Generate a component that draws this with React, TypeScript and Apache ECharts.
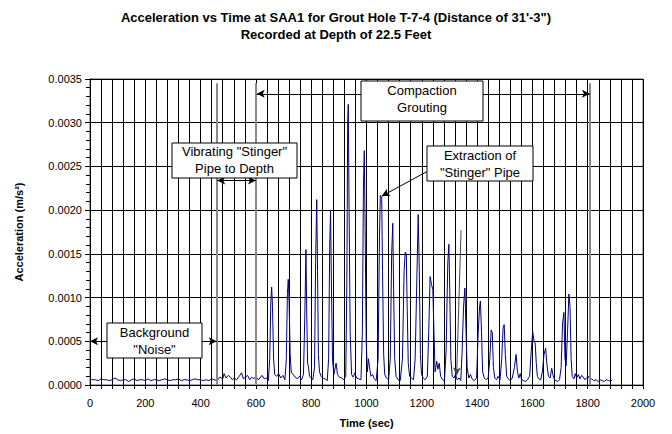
import React, { useEffect, useRef } from "react";
import * as echarts from "echarts";

// Time (sec)
const timeSec = [
  0, 10, 20, 30, 40, 50, 60, 70, 80, 90, 100, 110, 120, 130, 140, 150, 160, 170, 180, 190,
  200, 210, 220, 230, 240, 250, 260, 270, 280, 290, 300, 310, 320, 330, 340, 350, 360, 370, 380, 390,
  400, 410, 420, 430, 440, 450, 460, 470, 480, 485, 492, 500, 508, 515, 522, 530, 540, 548, 555, 562,
  570, 578, 585, 592, 600, 608, 615, 622, 630, 638, 645, 650, 654, 657, 660, 664, 668, 675, 682, 690,
  698, 705, 710, 714, 717, 720, 724, 728, 735, 742, 750, 758, 765, 772, 777, 781, 784, 787, 790, 794,
  800, 806, 812, 816, 820, 823, 826, 830, 836, 842, 850, 858, 863, 867, 870, 873, 877, 882, 890, 895,
  902, 910, 918, 925, 929, 932, 934, 937, 941, 946, 952, 958, 964, 972, 980, 985, 989, 992, 995, 999,
  1003, 1007, 1012, 1016, 1022, 1028, 1035, 1042, 1047, 1050, 1055, 1058, 1062, 1066, 1072, 1080, 1086, 1091, 1095, 1098,
  1102, 1107, 1114, 1122, 1130, 1136, 1140, 1144, 1147, 1151, 1156, 1162, 1170, 1176, 1182, 1187, 1191, 1195, 1199, 1205,
  1212, 1220, 1225, 1230, 1235, 1240, 1244, 1248, 1254, 1258, 1263, 1268, 1275, 1282, 1288, 1294, 1298, 1301, 1305, 1310,
  1316, 1322, 1328, 1335, 1341, 1346, 1351, 1356, 1360, 1364, 1370, 1376, 1382, 1390, 1398, 1404, 1409, 1412, 1416, 1420,
  1426, 1432, 1440, 1446, 1451, 1455, 1459, 1464, 1470, 1476, 1483, 1489, 1494, 1498, 1502, 1507, 1513, 1520, 1527, 1535,
  1541, 1546, 1551, 1556, 1561, 1568, 1575, 1582, 1590, 1596, 1601, 1606, 1610, 1614, 1618, 1624, 1630, 1636, 1642, 1648,
  1652, 1658, 1664, 1670, 1674, 1680, 1686, 1692, 1698, 1704, 1709, 1714, 1718, 1722, 1727, 1732, 1736, 1740, 1744, 1750,
  1755, 1760, 1766, 1772, 1778, 1784, 1790, 1796, 1802, 1808, 1815, 1822, 1830, 1838, 1845, 1852, 1860, 1868, 1876, 1882,
  1888,
];

// Acceleration (m/s^2)
const accel = [
  0.00007, 0.00006, 0.00006, 0.00005, 0.00007, 0.00006, 0.00006, 0.00005, 0.00006, 0.00008,
  0.00006, 0.00005, 0.00006, 0.00006, 0.00004, 0.00006, 0.00007, 0.00005, 0.00006, 0.00006,
  0.00005, 0.00007, 0.00005, 0.00006, 0.00006, 0.00005, 0.00006, 0.00007, 0.00006, 0.00005,
  0.00006, 0.00006, 0.00007, 0.00005, 0.00006, 0.00006, 0.00005, 0.00006, 0.00007, 0.00006,
  0.00006, 0.00005, 0.00006, 0.00005, 0.00007, 0.00006, 0.00005, 0.00009, 0.00007, 0.00013,
  0.00008, 0.00011, 0.00009, 0.00006, 0.00008, 0.00006, 0.00010, 0.00014, 0.00007, 0.00009,
  0.00011, 0.00006, 0.00009, 0.00007, 0.00010, 0.00006, 0.00008, 0.00011, 0.00007, 0.00008,
  0.00005, 0.00030, 0.00095, 0.00112, 0.00090, 0.00030, 0.00012, 0.00010, 0.00013, 0.00008,
  0.00011, 0.00006, 0.00030, 0.00105, 0.00121, 0.00095, 0.00035, 0.00014, 0.00012, 0.00009,
  0.00007, 0.00010, 0.00006, 0.00012, 0.00080, 0.00155, 0.00080, 0.00025, 0.00021, 0.00010,
  0.00008, 0.00006, 0.00020, 0.00140, 0.00212, 0.00130, 0.00035, 0.00015, 0.00010, 0.00008,
  0.00007, 0.00005, 0.00030, 0.00160, 0.00199, 0.00120, 0.00030, 0.00012, 0.00025, 0.00012,
  0.00009, 0.00008, 0.00006, 0.00010, 0.00120, 0.00300, 0.00321, 0.00200, 0.00060, 0.00012,
  0.00009, 0.00014, 0.00008, 0.00007, 0.00006, 0.00060, 0.00230, 0.00268, 0.00180, 0.00050,
  0.00015, 0.00030, 0.00018, 0.00010, 0.00012, 0.00007, 0.00005, 0.00030, 0.00170, 0.00217,
  0.00214, 0.00130, 0.00035, 0.00012, 0.00008, 0.00006, 0.00030, 0.00150, 0.00185, 0.00110,
  0.00030, 0.00010, 0.00006, 0.00005, 0.00030, 0.00130, 0.00152, 0.00150, 0.00090, 0.00025,
  0.00010, 0.00008, 0.00006, 0.00030, 0.00120, 0.00195, 0.00130, 0.00035, 0.00012, 0.00008,
  0.00006, 0.00010, 0.00060, 0.00124, 0.00115, 0.00109, 0.00060, 0.00015, 0.00027, 0.00018,
  0.00025, 0.00010, 0.00006, 0.00005, 0.00040, 0.00140, 0.00161, 0.00110, 0.00030, 0.00010,
  0.00008, 0.00012, 0.00006, 0.00008, 0.00005, 0.00040, 0.00090, 0.00111, 0.00060, 0.00020,
  0.00008, 0.00012, 0.00007, 0.00005, 0.00008, 0.00060, 0.00090, 0.00096, 0.00060, 0.00015,
  0.00008, 0.00006, 0.00008, 0.00030, 0.00063, 0.00060, 0.00020, 0.00008, 0.00006, 0.00010,
  0.00006, 0.00030, 0.00065, 0.00069, 0.00035, 0.00010, 0.00007, 0.00005, 0.00008, 0.00020,
  0.00035, 0.00015, 0.00008, 0.00013, 0.00006, 0.00005, 0.00004, 0.00006, 0.00010, 0.00040,
  0.00061, 0.00050, 0.00048, 0.00025, 0.00010, 0.00007, 0.00006, 0.00015, 0.00035, 0.00042,
  0.00025, 0.00010, 0.00008, 0.00019, 0.00012, 0.00006, 0.00005, 0.00004, 0.00006, 0.00020,
  0.00070, 0.00083, 0.00030, 0.00022, 0.00060, 0.00104, 0.00090, 0.00030, 0.00010, 0.00007,
  0.00013, 0.00008, 0.00012, 0.00007, 0.00011, 0.00009, 0.00006, 0.00008, 0.00010, 0.00006,
  0.00007, 0.00005, 0.00006, 0.00004, 0.00006, 0.00005, 0.00004, 0.00006, 0.00005, 0.00004,
  0.00006,
];

const xTicks = [0, 2000, 200];
const yTicks = [0, 0.0035, 0.0005];

// Annotation anchors in data coordinates: [time, acceleration]
const noiseArrow = [[0, 0.0005], [458, 0.0005]];
const vibrateArrow = [[460, 0.00234], [600, 0.00234]];
const groutArrow = [[603, 0.00333], [1808, 0.00333]];
const extractArrow = [[1218, 0.00244], [1055, 0.00216]];
const groutOpArrow = [[1342, 0.00177], [1326, 0.00011]];
const phaseLines = [460, 600, 1808];

const FONT = "'Liberation Sans', Arial, Helvetica, sans-serif";

export default function App() {
  const ref = useRef<HTMLDivElement>(null);

  useEffect(() => {
    if (!ref.current) return;
    const chart = echarts.init(ref.current, null, { renderer: "svg" });

    const arrowPair = (p: number[][], both: boolean) => [
      { coord: p[0], symbol: both ? "arrow" : "none" },
      { coord: p[1], symbol: "arrow" },
    ];

    const phaseLineItems = phaseLines.map((t) => [
      { coord: [t, 0], symbol: "none", lineStyle: { color: "#8a8a8a", width: 2, type: "solid" } },
      { coord: [t, 0.00345], symbol: "none" },
    ]);

    const box = (
      x: number,
      y: number,
      w: number,
      h: number,
      lines: string[],
      lineYs: number[]
    ) => [
      {
        type: "rect",
        shape: { x, y, width: w, height: h },
        style: { fill: "#ffffff", stroke: "#000000", lineWidth: 1 },
        z: 100,
      },
      ...lines.map((t, i) => ({
        type: "text",
        x: x + w / 2,
        y: lineYs[i],
        style: {
          text: t,
          font: `13px ${FONT}`,
          fill: "#000000",
          align: "center",
          verticalAlign: "middle",
        },
        z: 101,
      })),
    ];

    chart.setOption({
      animation: false,
      backgroundColor: "#ffffff",
      textStyle: { fontFamily: FONT },
      title: {
        text:
          "Acceleration vs Time at SAA1 for Grout Hole T-7-4 (Distance of 31'-3\")\nRecorded at Depth of 22.5 Feet",
        left: "center",
        top: 4,
        textStyle: {
          fontFamily: FONT,
          fontSize: 13,
          fontWeight: "bold",
          color: "#000000",
          lineHeight: 17,
        },
      },
      grid: {
        left: 90,
        right: 29,
        top: 79,
        bottom: 49,
        show: true,
        borderColor: "#555555",
        borderWidth: 1,
      },
      xAxis: {
        type: "value",
        min: xTicks[0],
        max: xTicks[1],
        interval: xTicks[2],
        name: "Time (sec)",
        nameLocation: "middle",
        nameGap: 32,
        nameTextStyle: { fontFamily: FONT, fontSize: 11, fontWeight: "bold", color: "#000" },
        axisLine: { lineStyle: { color: "#000", width: 1 } },
        axisTick: { show: true, length: 4, lineStyle: { color: "#000" } },
        minorTick: { show: true, splitNumber: 5, length: 4, lineStyle: { color: "#000" } },
        axisLabel: {
          fontFamily: FONT,
          fontSize: 11,
          color: "#000",
          margin: 12,
          formatter: (v: number) => String(v),
        },
        splitLine: { show: true, lineStyle: { color: "#000", width: 1 } },
        minorSplitLine: { show: true, lineStyle: { color: "#000", width: 1 } },
      },
      yAxis: {
        type: "value",
        min: yTicks[0],
        max: yTicks[1],
        interval: yTicks[2],
        name: "Acceleration (m/s²)",
        nameLocation: "middle",
        nameGap: 66,
        nameTextStyle: { fontFamily: FONT, fontSize: 11, fontWeight: "bold", color: "#000" },
        axisLine: { show: true, lineStyle: { color: "#000", width: 1 } },
        axisTick: { show: true, length: 5, lineStyle: { color: "#000" } },
        minorTick: { show: true, splitNumber: 5, length: 4, lineStyle: { color: "#000" } },
        axisLabel: {
          fontFamily: FONT,
          fontSize: 11,
          color: "#000",
          margin: 8,
          formatter: (v: number) => v.toFixed(4),
        },
        splitLine: { show: true, lineStyle: { color: "#000", width: 1 } },
      },
      series: [
        {
          type: "line",
          data: timeSec.map((t, i) => [t, accel[i]]),
          showSymbol: false,
          symbol: "none",
          lineStyle: { color: "#000080", width: 1 },
          itemStyle: { color: "#000080" },
          z: 3,
          markLine: {
            silent: true,
            symbolSize: [6, 8],
            label: { show: false },
            lineStyle: { color: "#000000", width: 1, type: "solid" },
            data: [
              ...phaseLineItems,
              arrowPair(noiseArrow, true),
              arrowPair(vibrateArrow, true),
              arrowPair(groutArrow, true),
              arrowPair(extractArrow, false),
              [
                { coord: groutOpArrow[0], symbol: "none", lineStyle: { color: "#444", width: 1 } },
                { coord: groutOpArrow[1], symbol: "arrow" },
              ],
            ],
          },
        },
      ],
      graphic: [
        ...box(361, 81, 122, 40, ["Compaction", "Grouting"], [90, 107]),
        ...box(172, 143, 125, 35, ["Vibrating \"Stinger\"", "Pipe to Depth"], [151, 168]),
        ...box(427, 146, 106, 35, ["Extraction of", "\"Stinger\" Pipe"], [155, 172]),
        ...box(107, 323, 95, 35, ["Background", "\"Noise\""], [332, 349]),
      ],
    });

    return () => chart.dispose();
  }, []);

  return (
    <div
      ref={ref}
      style={{ position: "fixed", left: 0, top: 0, width: 672, height: 434 }}
    />
  );
}
